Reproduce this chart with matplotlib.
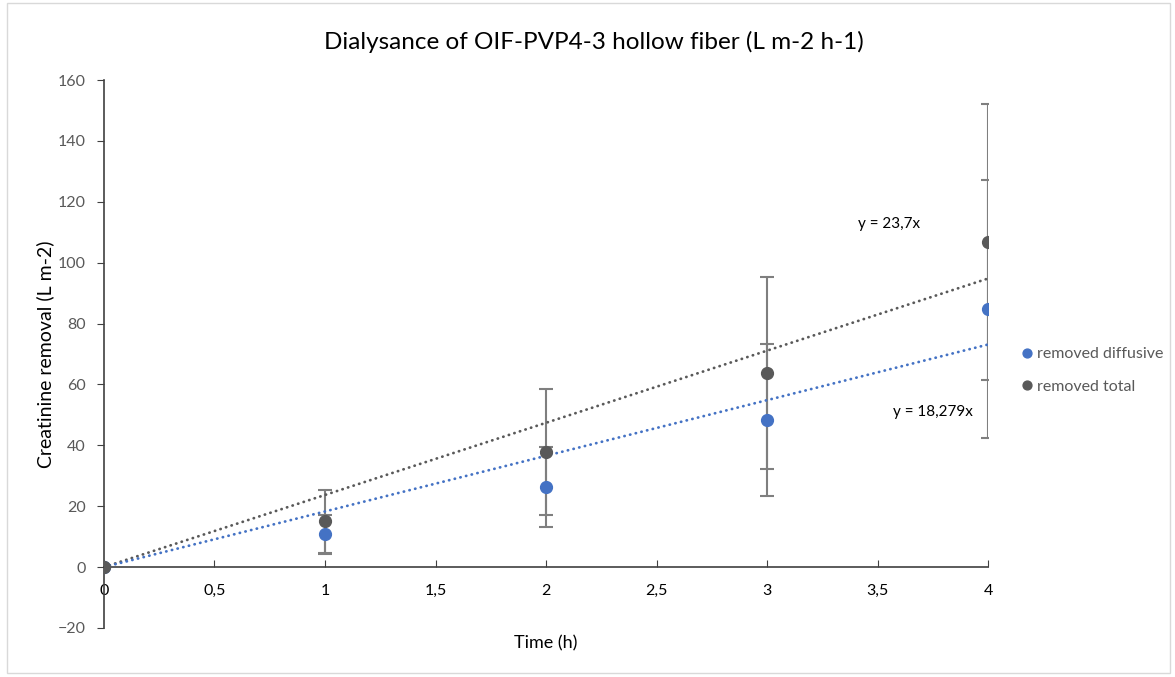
import numpy as np
import matplotlib.pyplot as plt
from matplotlib.patches import Rectangle

plt.rcParams['font.family'] = ['Lato', 'DejaVu Sans']

time_h = [0, 1, 2, 3, 4]
diffusive = [0, 10.8, 26.3, 48.3, 84.8]
diffusive_err = [0, 6.4, 13.1, 25.0, 42.5]
total = [0, 15.0, 37.8, 63.8, 106.8]
total_err = [0, 10.3, 20.8, 31.5, 45.3]
slope_diff = 18.279
slope_total = 23.7

blue = '#4472C4'
dark = '#595959'
grey_err = '#7f7f7f'
txt = '#595959'

f = plt.figure(figsize=(11.75, 6.77), dpi=100)
ax = f.add_axes([0.0885, 0.0724, 0.7524, 0.8094])

# error bars
ax.errorbar(time_h, diffusive, yerr=diffusive_err, fmt='none', ecolor=grey_err,
            elinewidth=1.5, capsize=5, capthick=1.5, zorder=2)
ax.errorbar(time_h, total, yerr=total_err, fmt='none', ecolor=grey_err,
            elinewidth=1.5, capsize=5, capthick=1.5, zorder=2)

# linear trendlines through origin
xs = np.array([0, 4])
ax.plot(xs, slope_total * xs, color=dark, lw=2.0, ls=(0, (0.1, 2.0)),
        dash_capstyle='round', zorder=3)
ax.plot(xs, slope_diff * xs, color=blue, lw=2.0, ls=(0, (0.1, 2.0)),
        dash_capstyle='round', zorder=3)

ax.plot(time_h, diffusive, 'o', color=blue, ms=8.5, label='removed diffusive', zorder=4)
ax.plot(time_h, total, 'o', color=dark, ms=8.5, label='removed total', zorder=4)

ax.text(3.41, 112.7, 'y = 23,7x', fontsize=11, color='black', va='center')
ax.text(3.57, 50.9, 'y = 18,279x', fontsize=11, color='black', va='center')

ax.set_xlim(0, 4)
ax.set_ylim(-20, 160)
ax.set_xticks(np.arange(0, 4.01, 0.5))
ax.set_xticklabels(['0', '0,5', '1', '1,5', '2', '2,5', '3', '3,5', '4'])
ax.set_yticks(np.arange(-20, 161, 20))

for s in ['top', 'right']:
    ax.spines[s].set_visible(False)
ax.spines['bottom'].set_position(('data', 0))
ax.spines['bottom'].set_color('#404040')
ax.spines['left'].set_color('#404040')
ax.spines['bottom'].set_linewidth(1.2)
ax.spines['left'].set_linewidth(1.2)
ax.tick_params(axis='x', direction='in', length=5, colors='#404040',
               labelcolor='black', labelsize=11.5, pad=12)
ax.tick_params(axis='y', direction='out', length=5, colors='#404040',
               labelcolor=txt, labelsize=11.5, pad=8)

ax.set_xlabel('Time (h)', fontsize=13, color='black')
ax.xaxis.set_label_coords(0.5, -0.014)
ax.set_ylabel('Creatinine removal (L m-2)', fontsize=14, color='black', labelpad=3)
f.text(0.505, 0.938, 'Dialysance of OIF-PVP4-3 hollow fiber (L m-2 h-1)',
       fontsize=17.5, color='black', ha='center', va='center')

leg = ax.legend(loc='center left', bbox_to_anchor=(1.028, 0.47), frameon=False,
                fontsize=11.5, handletextpad=0.1, labelspacing=1.15, markerscale=0.75,
                handlelength=1.0, borderaxespad=0)
for t in leg.get_texts():
    t.set_color(txt)

f.patches.append(Rectangle((0.006, 0.006), 0.99, 0.99, transform=f.transFigure,
                           fill=False, edgecolor='#d9d9d9', lw=1))

f.savefig('out.png', dpi=100)
